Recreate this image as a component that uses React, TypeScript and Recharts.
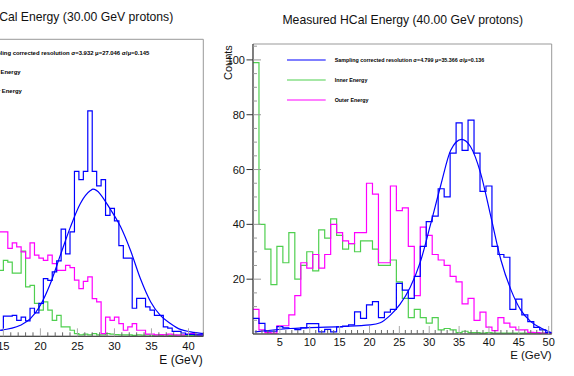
import { Legend, Line, LineChart, ReferenceArea, XAxis, YAxis } from "recharts";

const FONT = '"Liberation Sans", Arial, Helvetica, sans-serif';

const BLUE = "#0000ff";
const GREEN = "#4fcf4f";
const MAGENTA = "#ff00ff";

// ---- 40 GeV run (right panel), 1 GeV bins from 0.5 to 50.5
const rightBinStart = 0.5;
const rightBinWidth = 1;
const rightTotal = [
	5.7, 3.9, 1, 1, 2.7, 2.2, 2, 1.6, 2.2, 3.8, 3.8, 0.8, 1.7, 0.8, 2.6, 2.9,
	3.3, 8.1, 5.7, 10.6, 11.8, 6, 8, 9, 18.5, 16, 13, 21, 32, 41, 43, 53, 50,
	66, 77, 67, 78, 66, 52, 54, 32, 29, 28, 9, 12.7, 7, 4.5, 2.4, 1.5, 0.5,
];
const rightInner = [
	99, 40, 31, 18, 32, 26, 37, 20, 25, 30, 23, 38, 35, 42, 36, 31, 33, 30, 34,
	34, 31, 25, 25, 27, 19, 13, 6, 9, 6, 4, 6, 1.5, 2, 1.5, 0.5, 1, 0.5, 0.5,
	0.3, 0.5, 0.3, 0.3, 0.3, 0.3, 0.3, 0.3, 0.3, 0.3, 0.3, 0.3,
];
const rightOuter = [
	9, 1.5, 0.5, 0.3, 3, 3, 7, 14, 26, 24, 29, 24, 29, 40, 37, 34, 33, 37, 37,
	55, 51, 26, 26, 54, 45, 46, 32, 14, 39, 36, 29, 27, 25, 21, 19, 11, 13, 5, 8,
	2.5, 1.2, 6, 4, 2.5, 1.5, 1.5, 0.6, 0.5, 0.3, 0.3,
];
const rightFitE = [
	0.8, 6.7, 15.1, 20.1, 21.8, 23.5, 25.1, 26.8, 28.5, 30.2, 31.9, 33.6, 35.4,
	36.9, 38.6, 40.3, 42, 43.7, 45.3, 47, 48.7, 50.4,
];
const rightFitCounts = [
	0.8, 2, 2.7, 3.3, 4.1, 6.9, 10.8, 17, 26.2, 39.8, 54, 67, 71, 68.4, 58.7,
	43, 27, 16, 8.8, 4.5, 2.2, 0.5,
];

// ---- 30 GeV run (left panel, cut at the page edge), 0.6 GeV bins from 14.4
const leftBinStart = 14.4;
const leftBinWidth = 0.6;
const leftTotal = [
	2.2, 7.3, 7.3, 7.6, 5.8, 7, 5.6, 10.2, 8.5, 12, 21, 20.3, 23.4, 27.4, 39, 30,
	38, 60, 57, 60, 82, 60, 54.7, 57, 44, 46.5, 42, 33, 28.4, 28.4, 10.2, 13.8,
	13.8, 10.7, 9.5, 7.6, 7.6, 3.4, 3, 1.8, 1.8, 1.2, 0.7, 0.7, 0.5, 0.5,
];
const leftInner = [
	24, 27.6, 27, 23, 23, 31, 18, 18.5, 12, 9.5, 12.5, 9.5, 5.8, 7.6, 3.4, 3.4,
	2.2, 1, 0.5, 0.8, 0.5, 1, 0.5, 0.5, 1, 0.8, 0.6, 0.5, 0.5, 0.5, 0.3, 0.5,
	0.4, 0.5, 0.3, 0.4, 0.3, 0.5, 0.3, 0.3, 0.4, 0.3, 0.3, 0.3, 0.3, 0.3,
];
const leftOuter = [
	38, 38, 32, 34, 32.5, 30.7, 28.4, 34, 29.5, 28.4, 27.6, 29.5, 26.4, 24, 24,
	25.8, 25, 20.4, 17.3, 20, 21.6, 13.7, 12.5, 1, 7, 5.8, 7, 4.6, 2.2, 3.4, 4.6,
	2.2, 2.2, 0.8, 0.8, 0.5, 0.6, 0.5, 0.8, 0.5, 0.4, 0.5, 0.8, 1, 0.6, 0.5,
];
const leftFitE = [
	14.6, 17.3, 18.65, 20, 21.35, 22.7, 24.05, 25.4, 26.76, 27.1, 29.5, 30.8,
	32.2, 33.5, 34.9, 36.2, 37.6, 38.9, 40.3, 42,
];
const leftFitCounts = [
	2.2, 4, 6.4, 11.3, 19.2, 29.5, 39.7, 48.3, 53, 53.5, 46, 40, 31, 21, 12.5,
	7.6, 4.6, 2.5, 1.6, 1,
];

// ---- axes / labels
const rightXTicks = Array.from({ length: 50 }, (_, i) => i + 1);
const leftXTicks = Array.from({ length: 42 }, (_, i) => i + 1);
const rightYTicks = Array.from({ length: 22 }, (_, i) => i * 5);

const rightTitle = "Measured HCal Energy (40.00 GeV protons)";
const leftTitle = "Measured HCal Energy (30.00 GeV protons)";
const rightLegend = [
	"Sampling corrected resolution σ=4.799 μ=35.366 σ/μ=0.136",
	"Inner Energy",
	"Outer Energy",
];
const leftLegend = [
	"Sampling corrected resolution σ=3.932 μ=27.046 σ/μ=0.145",
	"Inner Energy",
	"Outer Energy",
];
const legendColors = [BLUE, GREEN, MAGENTA];

interface Pt {
	x: number;
	y: number;
}

function toSteps(start: number, width: number, counts: number[]): Pt[] {
	const pts = counts.map((c, i) => ({ x: start + i * width, y: c }));
	pts.push({ x: start + counts.length * width, y: counts[counts.length - 1] });
	return pts;
}

function zip(xs: number[], ys: number[]): Pt[] {
	return xs.map((x, i) => ({ x, y: ys[i] }));
}

function renderXTick(p: any, fontSize: number, labelDy: number) {
	const { x, y, payload } = p;
	const v = payload.value as number;
	const major = v % 5 === 0;
	return (
		<g>
			<line
				x1={x}
				x2={x}
				y1={y}
				y2={y - (major ? 8 : 4)}
				stroke={major ? "#aaa" : "#666"}
			/>
			{major && (
				<text
					x={x}
					y={y + labelDy}
					textAnchor="middle"
					fontSize={fontSize}
					fontFamily={FONT}
					fill="#111"
				>
					{v}
				</text>
			)}
		</g>
	);
}

function renderYTick(p: any) {
	const { x, y, payload } = p;
	const v = payload.value as number;
	if (v === 0) return <g />;
	const major = v % 20 === 0;
	return (
		<g>
			<line x1={x} x2={x + (major ? 8 : 4)} y1={y} y2={y} stroke="#999" />
			{major && (
				<>
					<line x1={x - 6.5} x2={x} y1={y} y2={y} stroke="#333" />
					<text
						x={x - 8}
						y={y + 4}
						textAnchor="end"
						fontSize={11}
						fontFamily={FONT}
						fill="#111"
					>
						{v}
					</text>
				</>
			)}
		</g>
	);
}

function legendContent(
	labels: string[],
	lineLen: number,
	textX: number,
	rowGap: number,
	fontSize: number,
) {
	return () => (
		<svg
			width={textX + 200}
			height={rowGap * 2 + 16}
			style={{ display: "block", overflow: "visible" }}
		>
			{labels.map((label, i) => (
				<g key={label}>
					<line
						x1={0}
						x2={lineLen}
						y1={8 + i * rowGap}
						y2={8 + i * rowGap}
						stroke={legendColors[i]}
						strokeWidth={1.2}
					/>
					<text
						x={textX}
						y={8 + i * rowGap + fontSize * 0.35}
						fontSize={fontSize}
						fontWeight="bold"
						fontFamily={FONT}
						fill="#000"
					>
						{label}
					</text>
				</g>
			))}
		</svg>
	);
}

function series(total: Pt[], inner: Pt[], outer: Pt[], fit: Pt[]) {
	const common = {
		dataKey: "y",
		dot: false,
		activeDot: false,
		isAnimationActive: false,
		strokeWidth: 1.2,
	} as const;
	return [
		<Line key="inner" {...common} data={inner} type="stepAfter" stroke={GREEN} />,
		<Line key="outer" {...common} data={outer} type="stepAfter" stroke={MAGENTA} />,
		<Line key="total" {...common} data={total} type="stepAfter" stroke={BLUE} />,
		<Line key="fit" {...common} data={fit} type="monotone" stroke={BLUE} />,
	];
}

export default function App() {
	const rTotal = toSteps(rightBinStart, rightBinWidth, rightTotal);
	const rInner = toSteps(rightBinStart, rightBinWidth, rightInner);
	const rOuter = toSteps(rightBinStart, rightBinWidth, rightOuter);
	const rFit = zip(rightFitE, rightFitCounts);

	const lTotal = toSteps(leftBinStart, leftBinWidth, leftTotal);
	const lInner = toSteps(leftBinStart, leftBinWidth, leftInner);
	const lOuter = toSteps(leftBinStart, leftBinWidth, leftOuter);
	const lFit = zip(leftFitE, leftFitCounts);

	return (
		<div
			style={{
				position: "fixed",
				left: 0,
				top: 0,
				width: 574,
				height: 376,
				overflow: "hidden",
				background: "#fff",
				fontFamily: FONT,
			}}
		>
			{/* left panel: 30 GeV, mostly outside the page */}
			<div style={{ position: "absolute", left: -114.3, top: 0 }}>
				<LineChart
					width={327.3}
					height={376}
					margin={{ top: 39.3, right: 10, bottom: 0, left: 10 }}
				>
					<XAxis
						type="number"
						dataKey="x"
						domain={[0.5, 42]}
						allowDataOverflow
						ticks={leftXTicks}
						interval={0}
						tickSize={0}
						tickMargin={0}
						tickLine={false}
						axisLine={{ stroke: "#333" }}
						height={39.7}
						tick={(p: any) => renderXTick(p, 11.2, 13.6)}
					/>
					<YAxis type="number" domain={[0, 108]} allowDataOverflow hide />
					<ReferenceArea
						x1={0.5}
						x2={42}
						y1={0}
						y2={108}
						fill="none"
						stroke="#999"
					/>
					{series(lTotal, lInner, lOuter, lFit)}
					<Legend
						layout="vertical"
						align="center"
						verticalAlign="middle"
						wrapperStyle={{ left: 45.3, top: 45.3, width: 300 }}
						content={legendContent(leftLegend, 40, 53.5, 19.2, 5.9)}
					/>
				</LineChart>
			</div>

			{/* right panel: 40 GeV */}
			<div style={{ position: "absolute", left: 213.3, top: 0 }}>
				<LineChart
					width={348.7}
					height={376}
					margin={{ top: 44, right: 10, bottom: 0, left: 0 }}
				>
					<XAxis
						type="number"
						dataKey="x"
						domain={[0.5, 50.5]}
						allowDataOverflow
						ticks={rightXTicks}
						interval={0}
						tickSize={0}
						tickMargin={0}
						tickLine={false}
						axisLine={{ stroke: "#333" }}
						height={42}
						tick={(p: any) => renderXTick(p, 11, 12)}
					/>
					<YAxis
						type="number"
						domain={[0, 105.8]}
						allowDataOverflow
						ticks={rightYTicks}
						interval={0}
						width={40}
						tickSize={0}
						tickMargin={0}
						tickLine={false}
						axisLine={{ stroke: "#333" }}
						tick={renderYTick}
					/>
					<ReferenceArea
						x1={0.5}
						x2={50.5}
						y1={0}
						y2={105.8}
						fill="none"
						stroke="#999"
					/>
					{series(rTotal, rInner, rOuter, rFit)}
					<Legend
						layout="vertical"
						align="center"
						verticalAlign="middle"
						wrapperStyle={{ left: 74, top: 52, width: 260 }}
						content={legendContent(rightLegend, 38.7, 47.7, 20, 5.35)}
					/>
				</LineChart>
			</div>

			{/* titles and axis titles */}
			<svg
				width={574}
				height={376}
				style={{ position: "absolute", left: 0, top: 0, pointerEvents: "none" }}
			>
				<text
					x={53}
					y={20.7}
					textAnchor="middle"
					fontSize={12.2}
					fontFamily={FONT}
					fill="#111"
				>
					{leftTitle}
				</text>
				<text
					x={402.7}
					y={24}
					textAnchor="middle"
					fontSize={12.2}
					fontFamily={FONT}
					fill="#111"
				>
					{rightTitle}
				</text>
				<g transform="translate(231.5 80) rotate(-90)">
					<text
						x={0}
						y={0}
						textAnchor="start"
						fontSize={11}
						fontFamily={FONT}
						fill="#111"
					>
						Counts
					</text>
				</g>
				<text
					x={202.7}
					y={364}
					textAnchor="end"
					fontSize={12}
					fontFamily={FONT}
					fill="#111"
				>
					E (GeV)
				</text>
				<text
					x={551.7}
					y={359}
					textAnchor="end"
					fontSize={11.5}
					fontFamily={FONT}
					fill="#111"
				>
					E (GeV)
				</text>
			</svg>
		</div>
	);
}
